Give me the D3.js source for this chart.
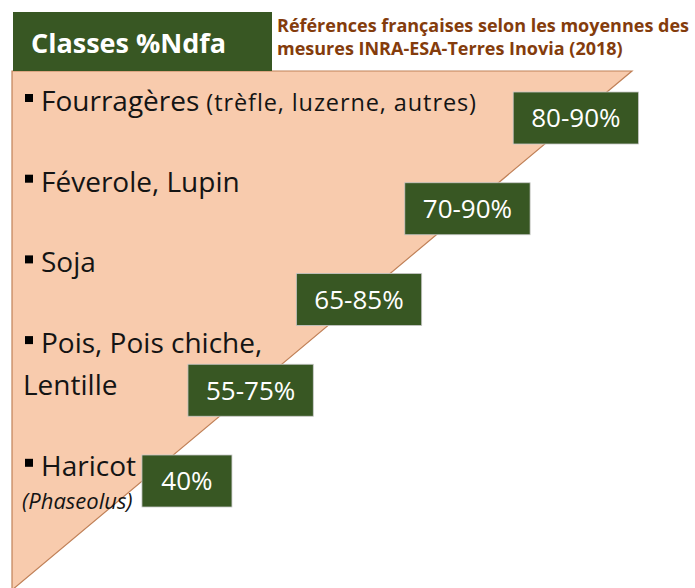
<!DOCTYPE html>
<html>
<head>
<meta charset="utf-8">
<script src="https://cdn.jsdelivr.net/npm/d3@7"></script>
<style>
  html, body { margin: 0; padding: 0; background: #fff; }
  svg { display: block; }
</style>
</head>
<body>
<div id="chart"></div>
<script>
const width = 695;
const height = 588;

// DONNÉES
const crops = [["Fourragères"], ["Féverole, Lupin"], ["Soja"], ["Pois, Pois chiche,", "Lentille"], ["Haricot"]];
const cropNotes = ["(trèfle, luzerne, autres)", "", "", "", ""];
const cropLatin = ["", "", "", "", "(Phaseolus)"];
const ndfaLow = [80, 70, 65, 55, 40];
const ndfaHigh = [90, 90, 85, 75, null];
const headerTitle = "Classes %Ndfa";
const sourceLines = ["Références françaises selon les moyennes des", "mesures INRA-ESA-Terres Inovia (2018)"];

const green = "#385723";
const peach = "#F8CBAD";
const brown = "#843C0C";
const font = "'Open Sans', 'Noto Sans', sans-serif";

const rows = crops.map((lines, i) => ({
  lines,
  note: cropNotes[i],
  latin: cropLatin[i],
  label: ndfaHigh[i] == null ? `${ndfaLow[i]}%` : `${ndfaLow[i]}-${ndfaHigh[i]}%`
}));

const svg = d3.select("#chart")
  .append("svg")
  .attr("width", width)
  .attr("height", height);

// TRIANGLE
const tri = { left: 12, top: 71, right: 632, bottom: 590 };
// x du bord diagonal pour un y donné
const diag = d3.scaleLinear().domain([tri.top, tri.bottom]).range([tri.right, tri.left]);

svg.append("path")
  .attr("d", d3.line()([[tri.left, tri.top], [tri.right, tri.top], [tri.left, tri.bottom]]) + "Z")
  .attr("fill", peach)
  .attr("stroke", "#C08158")
  .attr("stroke-width", 1.2);

// EN-TÊTE
svg.append("rect")
  .attr("x", 13).attr("y", 12)
  .attr("width", 259).attr("height", 59)
  .attr("fill", green);

svg.append("text")
  .attr("x", 31).attr("y", 53)
  .attr("fill", "#fff")
  .attr("font-family", font)
  .attr("font-weight", 700)
  .attr("font-size", 27)
  .text(headerTitle);

svg.append("g")
  .selectAll("text")
  .data(sourceLines)
  .enter()
  .append("text")
  .attr("x", 277)
  .attr("y", (d, i) => 32 + i * 23)
  .attr("fill", brown)
  .attr("font-family", font)
  .attr("font-weight", 700)
  .attr("font-size", 18)
  .text(d => d);

// LIBELLÉS
const firstBaseline = 111;
const paraStep = 80.7;
const lineStep = 42;
let cursor = firstBaseline;
rows.forEach(r => {
  r.baselines = r.lines.map((l, j) => cursor + j * lineStep);
  cursor = r.baselines[r.baselines.length - 1] + paraStep;
});

const labelGroup = svg.append("g")
  .attr("font-family", font)
  .attr("fill", "#141414");

rows.forEach(r => {
  labelGroup.append("rect")
    .attr("x", 25)
    .attr("y", r.baselines[0] - 17)
    .attr("width", 8)
    .attr("height", 8)
    .attr("fill", "#000");

  r.textNodes = r.lines.map((line, j) => {
    const t = labelGroup.append("text")
      .attr("x", j === 0 ? 41 : 23)
      .attr("y", r.baselines[j])
      .attr("font-size", 28);
    t.append("tspan").text(line);
    if (j === 0 && r.note) {
      t.append("tspan")
        .attr("font-size", 23.5)
        .attr("letter-spacing", 0.9)
        .text(" " + r.note);
    }
    return { node: t.node(), baseline: r.baselines[j], x: j === 0 ? 41 : 23 };
  });

  if (r.latin) {
    labelGroup.append("text")
      .attr("x", 22)
      .attr("y", r.baselines[r.baselines.length - 1] + 33)
      .attr("font-size", 22)
      .attr("font-style", "italic")
      .text(r.latin);
  }
});

// BOÎTES %Ndfa
const yBox = d3.scaleLinear().domain([0, rows.length - 1]).range([118, 481]);
const boxH = 52;
const padX = 18;

const boxGroup = svg.append("g");

rows.forEach((r, i) => {
  const cy = yBox(i);
  const g = boxGroup.append("g");
  const txt = g.append("text")
    .attr("font-family", font)
    .attr("font-size", 26)
    .attr("fill", "#fff")
    .attr("text-anchor", "middle")
    .attr("dy", "0.36em")
    .text(r.label);
  const w = Math.max(txt.node().getComputedTextLength() + padX * 2, 90);

  // ne pas recouvrir le libellé qui se trouve à la même hauteur
  let textEnd = 0;
  r.textNodes.forEach(t => {
    if (t.baseline - 22 < cy + boxH / 2 && t.baseline + 6 > cy - boxH / 2) {
      textEnd = Math.max(textEnd, t.x + t.node.getComputedTextLength());
    }
  });
  const left = Math.max(diag(cy) - w / 2, textEnd + 6);

  g.insert("rect", "text")
    .attr("x", left)
    .attr("y", cy - boxH / 2)
    .attr("width", w)
    .attr("height", boxH)
    .attr("fill", green)
    .attr("stroke", "#c9c9c9")
    .attr("stroke-width", 0.8);
  txt.attr("x", left + w / 2).attr("y", cy);
});
</script>
</body>
</html>
